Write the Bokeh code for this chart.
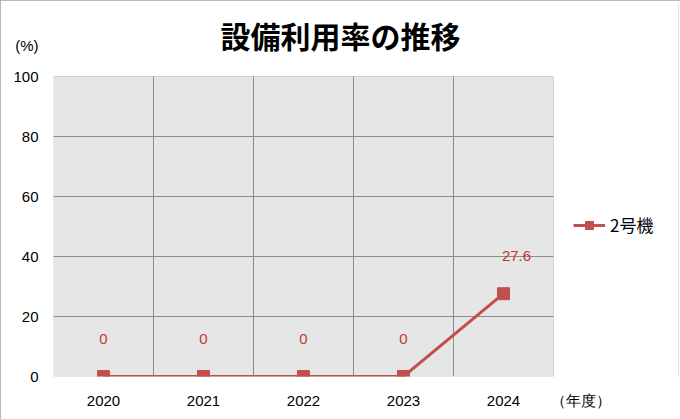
from bokeh.plotting import figure
from bokeh.models import (ColumnDataSource, Label, LabelSet, FixedTicker, Range1d,
                          Legend, LegendItem, BoxAnnotation)
from bokeh.core.properties import value
from bokeh.embed import file_html
from bokeh.resources import INLINE

# ---- data ----
years = ["2020", "2021", "2022", "2023", "2024"]
rate = [0, 0, 0, 0, 27.6]
series_name = "2号機"
y_ticks = [0, 20, 40, 60, 80, 100]
title_text = "設備利用率の推移"
y_unit = "(%)"
x_unit = "（年度）"

RED = "#c0504d"
LABEL_RED = "#c0392b"
GRID = "#8c8c8c"
FONT = "Liberation Sans"
JP = "Noto Sans CJK JP"

W, H = 680, 419
L, R, T, B = 53, 2, 2, 43
frame_w, frame_h = W - L - R, H - T - B
n = len(years)
y_top = y_ticks[-1]
px_per_y = 300 / y_top          # plot area 300 px tall
px_per_x = 100                  # one category = 100 px
x_end = frame_w / px_per_x
y_end = frame_h / px_per_y

xs = [i + 0.5 for i in range(n)]
labels = [("%g" % v) for v in rate]
src = ColumnDataSource(dict(x=xs, y=rate, label=labels))
src_a = ColumnDataSource(dict(x=xs[:-1], y=rate[:-1], label=labels[:-1]))
src_b = ColumnDataSource(dict(x=xs[-1:], y=rate[-1:], label=labels[-1:]))

# unit labels shown as extra axis ticks, beside the plot area
x_unit_pos = n + 0.27
y_unit_pos = y_top + 10.3

p = figure(width=W, height=H, output_backend="svg", toolbar_location=None,
           x_range=Range1d(0, x_end), y_range=Range1d(0, y_end),
           min_border_left=L, min_border_right=R, min_border_top=T, min_border_bottom=B,
           tools="")
p.background_fill_color = "white"
p.border_fill_color = "white"
p.outline_line_color = None
p.styles = {"outline": "2px solid #a0a0a0", "outline-offset": "-2px"}
p.grid.visible = False

# plot area background
p.add_layout(BoxAnnotation(left=0, right=n, bottom=0, top=y_top, level="image",
                           fill_color="#e6e6e6", fill_alpha=1, line_color=GRID,
                           line_width=1))

# grid lines inside the plot area only
vx = list(range(1, n))
p.segment(x0=vx, y0=[0] * len(vx), x1=vx, y1=[y_top] * len(vx),
          line_color=GRID, line_width=1)
hy = y_ticks[1:-1]
p.segment(x0=[0] * len(hy), y0=hy, x1=[n] * len(hy), y1=hy,
          line_color=GRID, line_width=1)

# axes
p.xaxis.ticker = FixedTicker(ticks=xs + [x_unit_pos])
p.xaxis.major_label_overrides = {**{x: y for x, y in zip(xs, years)}, x_unit_pos: x_unit}
p.yaxis.ticker = FixedTicker(ticks=y_ticks + [y_unit_pos])
p.yaxis.major_label_overrides = {y_unit_pos: y_unit}
for ax in (p.xaxis[0], p.yaxis[0]):
    ax.axis_line_color = None
    ax.major_tick_line_color = None
    ax.minor_tick_line_color = None
    ax.major_tick_out = 0
    ax.major_tick_in = 0
    ax.minor_tick_out = 0
    ax.major_label_text_font = FONT
    ax.major_label_text_font_size = "15px"
    ax.major_label_text_color = "#000000"
    ax.major_label_standoff = 15

# series
ln = p.line("x", "y", source=src, line_color=RED, line_width=3)
sq = p.scatter("x", "y", source=src, marker="square", size=12,
               fill_color=RED, line_color=RED)

# data labels
for s, xo in ((src_a, 0), (src_b, 13)):
    p.add_layout(LabelSet(x="x", y="y", text="label", source=s, x_offset=xo, y_offset=38,
                          text_align="center", text_baseline="middle",
                          text_font=value(FONT), text_font_size="15px",
                          text_color=LABEL_RED))

# legend
leg = Legend(items=[LegendItem(label=series_name, renderers=[ln, sq])],
             location=(520, 139), border_line_color=None, background_fill_alpha=0,
             padding=0, margin=0, glyph_width=32, glyph_height=20, label_height=20,
             label_standoff=5, label_text_font=JP, label_text_font_size="17px",
             label_text_color="#000000", label_text_baseline="middle")
p.add_layout(leg, "center")

# title
p.add_layout(Label(x=(340 - L) / px_per_x, y=(376 - 34) / px_per_y, text=title_text,
                   text_align="center", text_baseline="middle", text_font=JP,
                   text_font_size="30px", text_font_style="bold", text_color="#000000"))

open("out.html", "w").write(file_html(p, INLINE))
